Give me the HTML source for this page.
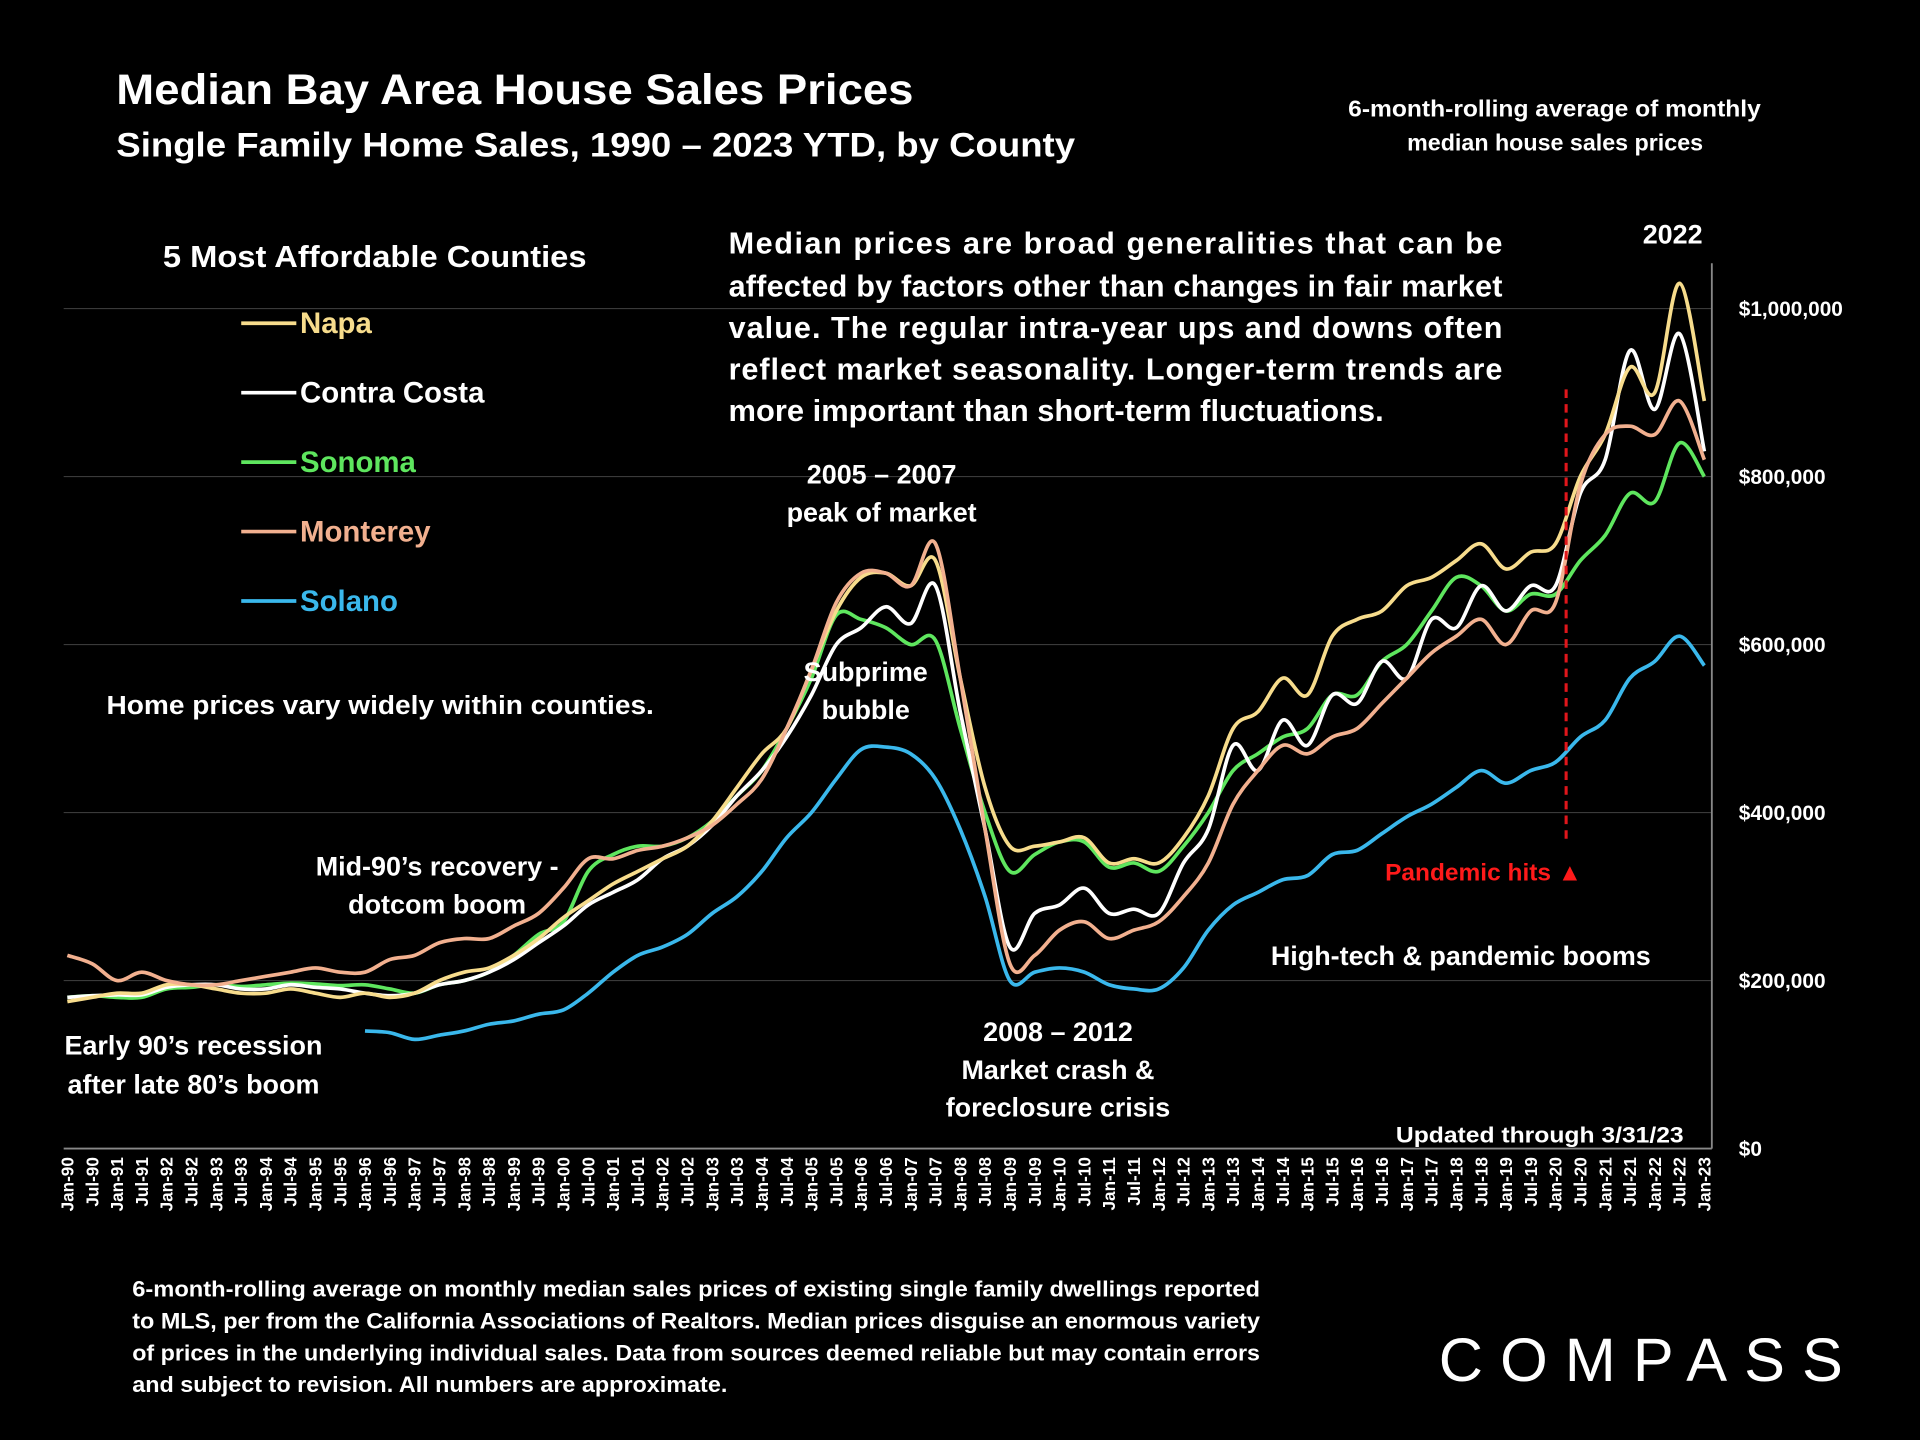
<!DOCTYPE html>
<html><head><meta charset="utf-8"><style>
html,body{margin:0;padding:0;background:#000;}
svg{display:block;}
text{font-family:"Liberation Sans",sans-serif;font-weight:bold;}
</style></head><body>
<svg id="chart" width="1920" height="1440" viewBox="0 0 1568 1176" xmlns="http://www.w3.org/2000/svg">
<rect width="1568" height="1176" fill="#000"/>
<g id="grid"></g>
<g id="series"></g>
<g id="xaxis"></g>
<g id="yaxis"></g>

<text x="95" y="85" fill="#fff" font-size="35" textLength="651" lengthAdjust="spacingAndGlyphs">Median Bay Area House Sales Prices</text>
<text x="95" y="128" fill="#fff" font-size="28" textLength="783" lengthAdjust="spacingAndGlyphs">Single Family Home Sales, 1990 – 2023 YTD, by County</text>
<text x="1101" y="95" fill="#fff" font-size="19" textLength="337" lengthAdjust="spacingAndGlyphs">6-month-rolling  average of monthly</text>
<text x="1270" y="123" fill="#fff" font-size="19" text-anchor="middle">median house sales prices</text>

<text x="133" y="218" fill="#fff" font-size="25" textLength="346" lengthAdjust="spacingAndGlyphs">5 Most Affordable Counties</text>
<g id="legend"></g>

<g fill="#fff" font-size="25">
<text x="595" y="207" textLength="632" lengthAdjust="spacing">Median prices are broad generalities that can be</text>
<text x="595" y="242" textLength="632" lengthAdjust="spacing">affected by factors other than changes in fair market</text>
<text x="595" y="276" textLength="632" lengthAdjust="spacing">value. The regular intra-year ups and downs often</text>
<text x="595" y="310" textLength="632" lengthAdjust="spacing">reflect market seasonality. Longer-term trends are</text>
<text x="595" y="344" textLength="535" lengthAdjust="spacingAndGlyphs">more important than short-term fluctuations.</text>
</g>

<g fill="#fff" font-size="22" text-anchor="middle">
<text x="720" y="395">2005 – 2007</text>
<text x="720" y="426">peak of market</text>
<text x="707" y="556">Subprime</text>
<text x="707" y="587">bubble</text>
<text x="357" y="715">Mid-90’s recovery -</text>
<text x="357" y="746">dotcom boom</text>
<text x="158" y="861">Early 90’s recession</text>
<text x="158" y="893">after late 80’s boom</text>
<text x="864" y="850">2008 – 2012</text>
<text x="864" y="881">Market crash &amp;</text>
<text x="864" y="912">foreclosure crisis</text>
<text x="1193" y="788">High-tech &amp; pandemic booms</text>
<text x="1366" y="199">2022</text>
</g>
<text x="87" y="583" fill="#fff" font-size="21" textLength="447" lengthAdjust="spacingAndGlyphs">Home prices vary widely within counties.</text>
<line x1="1279" y1="318" x2="1279" y2="690" stroke="#e0161b" stroke-width="2.5" stroke-dasharray="7,5"/>
<text x="1292" y="719" fill="#ff1a1a" font-size="20" text-anchor="end">Pandemic hits ▲</text>
<text x="1140" y="933" fill="#fff" font-size="18" textLength="235" lengthAdjust="spacingAndGlyphs">Updated through 3/31/23</text>

<g fill="#fff" font-size="18">
<text x="108" y="1059" textLength="921" lengthAdjust="spacingAndGlyphs">6-month-rolling average on monthly median sales prices of existing single family dwellings reported</text>
<text x="108" y="1085" textLength="921" lengthAdjust="spacingAndGlyphs">to MLS, per from the California Associations of Realtors. Median prices disguise an enormous variety</text>
<text x="108" y="1111" textLength="921" lengthAdjust="spacingAndGlyphs">of prices in the underlying individual sales. Data from sources deemed reliable but may contain errors</text>
<text x="108" y="1137" textLength="486" lengthAdjust="spacingAndGlyphs">and subject to revision. All numbers are approximate.</text>
</g>
<g>
<text x="1175" y="1128" fill="#fff" font-size="50" font-weight="normal" textLength="330" lengthAdjust="spacing" style="font-weight:normal">COMPASS</text>
</g>
</svg>
<script>
// Data: semi-annual points (months since Jan-90), values in $k
const months = [];
for (let k = 0; k <= 66; k++) months.push(k * 6);
const napa = [175,180,185,185,195,195,190,185,185,190,185,180,185,180,185,200,210,215,230,250,275,295,315,330,345,360,390,430,470,500,570,640,680,685,670,700,560,430,360,360,365,370,340,345,340,370,420,500,520,560,540,610,630,640,670,680,700,720,690,710,720,800,850,930,900,1030,890];
const contraCosta = [180,182,183,183,192,195,195,190,190,195,192,190,185,182,185,195,200,210,225,245,265,290,305,320,345,360,385,420,450,490,540,600,620,645,625,670,520,380,240,280,290,310,280,285,280,340,380,480,450,510,480,540,530,580,560,630,620,670,640,670,670,780,820,950,880,970,830];
const sonoma = [180,182,180,180,190,192,195,193,195,197,196,194,195,190,185,195,200,210,230,255,270,330,350,360,360,370,390,420,450,500,560,635,630,620,600,605,500,400,330,350,365,365,335,340,330,360,400,450,470,490,500,540,540,580,600,640,680,670,640,660,660,700,730,780,770,840,800];
const monterey = [230,220,200,210,200,195,195,200,205,210,215,210,210,225,230,245,250,250,265,280,310,345,345,355,360,370,385,410,440,500,570,650,685,685,670,720,560,380,220,230,260,270,250,260,270,300,340,410,450,480,470,490,500,530,560,590,610,630,600,640,650,790,850,860,850,890,820];
const solano = [null,null,null,null,null,null,null,null,null,null,null,null,140,138,130,135,140,148,152,160,165,185,210,230,240,255,280,300,330,370,400,440,475,478,470,440,380,300,200,210,215,210,195,190,190,215,260,290,305,320,325,350,355,375,395,410,430,450,435,450,460,490,510,560,580,610,575];
const seriesNames = ["Napa","Contra Costa","Sonoma","Monterey","Solano"];
const seriesColors = ["#f7dc8c","#ffffff","#5ee65e","#f2b08f","#3ab8ec"];
const yTicks = [0,200,400,600,800,1000];
const yTickLabels = ["$0","$200,000","$400,000","$600,000","$800,000","$1,000,000"];

const NS = "http://www.w3.org/2000/svg";
const X0 = 55, XPM = 3.376, Y0 = 938, YPK = 137.2/200;
const xs = m => X0 + m * XPM;
const ys = v => Y0 - v * YPK;
function mk(tag, attrs, parent){const e=document.createElementNS(NS,tag);for(const k in attrs)e.setAttribute(k,attrs[k]);parent.appendChild(e);return e;}

const grid = document.getElementById('grid');
const yaxis = document.getElementById('yaxis');
yTicks.forEach((t,i)=>{
  if (t>0){
    const gl = mk('line',{x1:52,x2:1398,y1:ys(t),y2:ys(t),stroke:'#3a3a3a','stroke-width':1},grid);
    
    
  }
  const tx = mk('text',{x:1420,y:ys(t)+6,fill:'#fff','font-size':17},yaxis);
  tx.textContent = yTickLabels[i];
  
  
});
const ax = mk('line',{x1:1398,x2:1398,y1:215,y2:938,stroke:'#888','stroke-width':1.5},yaxis);



const xaxis = document.getElementById('xaxis');
const xl = mk('line',{x1:52,x2:1398,y1:938,y2:938,stroke:'#888','stroke-width':1.5},xaxis);


months.forEach((m,i)=>{
  const yr = 90 + Math.floor(m/12);
  const lbl = (m%12===0?'Jan-':'Jul-') + String(yr%100).padStart(2,'0');
  const x = xs(m)+5;
  const t = mk('text',{x:x,y:945,fill:'#fff','font-size':14,'text-anchor':'end',transform:`rotate(-90 ${x} 945)`},xaxis);
  t.textContent = lbl;
  
  
});

function pathFor(vals){
  const pts=[];vals.forEach((v,i)=>{if(v!==null)pts.push([xs(months[i]),ys(v)]);});
  let d=`M${pts[0][0]},${pts[0][1]}`;
  for(let i=0;i<pts.length-1;i++){
    const p0=pts[Math.max(0,i-1)],p1=pts[i],p2=pts[i+1],p3=pts[Math.min(pts.length-1,i+2)];
    const c1=[p1[0]+(p2[0]-p0[0])/6,p1[1]+(p2[1]-p0[1])/6];
    const c2=[p2[0]-(p3[0]-p1[0])/6,p2[1]-(p3[1]-p1[1])/6];
    d+=` C${c1[0]},${c1[1]} ${c2[0]},${c2[1]} ${p2[0]},${p2[1]}`;
  }
  return d;
}
const g = document.getElementById('series');
const allData = [napa, contraCosta, sonoma, monterey, solano];
const order = [4,2,1,0,3];
order.forEach(i=>{
  const p = mk('path',{d:pathFor(allData[i]),fill:'none',stroke:seriesColors[i],'stroke-width':3,'stroke-linejoin':'round'},g);
  
  
});

const leg = document.getElementById('legend');
seriesNames.forEach((n,i)=>{
  const y = 264 + i*56.7;
  const l = mk('line',{x1:197,x2:242,y1:y,y2:y,stroke:seriesColors[i],'stroke-width':3},leg);
  
  
  const t = mk('text',{x:245,y:y+8,fill:seriesColors[i],'font-size':24},leg);
  t.textContent = n;
  
  
});
</script>
</body></html>
